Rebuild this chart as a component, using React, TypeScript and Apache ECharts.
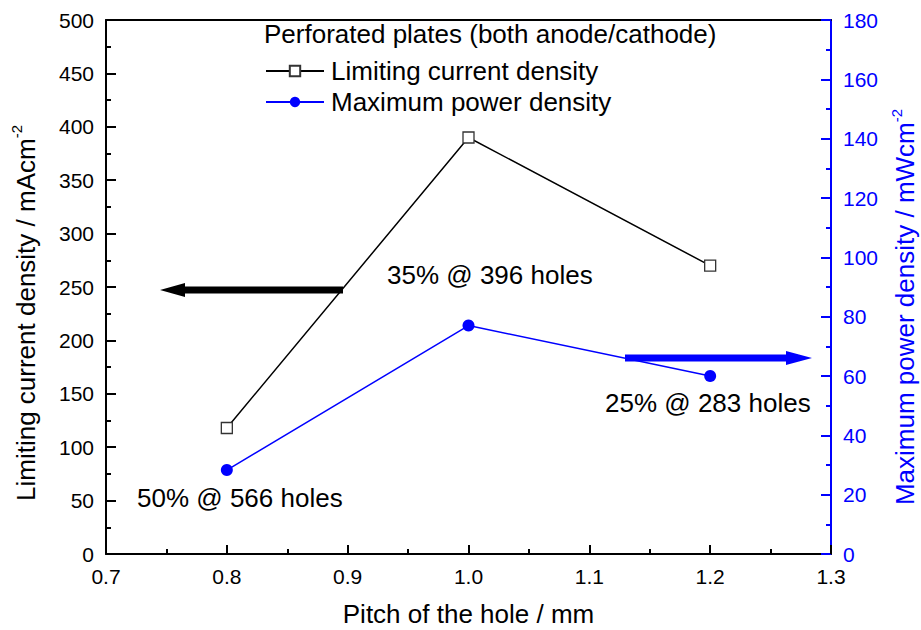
import React, { useEffect, useRef } from "react";
import * as echarts from "echarts";

const pitch = [0.8, 1.0, 1.2];
const limitingCurrent = [118, 390, 270];
const maxPower = [28.3, 77, 60];
const seriesNames = ["Limiting current density", "Maximum power density"];
const legendTitle = "Perforated plates (both anode/cathode)";
const annotationTexts = ["50% @ 566 holes", "35% @ 396 holes", "25% @ 283 holes"];
const xTitle = "Pitch of the hole / mm";
const yLeftTitle = "Limiting current density / mAcm{sup|-2}";
const yRightTitle = "Maximum power density / mWcm{sup|-2}";

const FONT = "'Liberation Sans', Arial, Helvetica, sans-serif";
const BLUE = "#0000ff";
const BIG = 26;
const TICK = 21;

export default function App() {
  const ref = useRef<HTMLDivElement>(null);
  useEffect(() => {
    if (!ref.current) return;
    const chart = echarts.init(ref.current, undefined, { renderer: "svg" });
    const supRich = { sup: { fontSize: 15, verticalAlign: "top", lineHeight: 15 } };
    chart.setOption({
      animation: false,
      backgroundColor: "#fff",
      textStyle: { fontFamily: FONT },
      grid: {
        left: 106,
        right: 90,
        top: 20,
        bottom: 76,
        containLabel: false,
        outerBoundsMode: "none",
      },
      title: {
        text: legendTitle,
        left: 264,
        top: 21,
        padding: 0,
        textStyle: { fontFamily: FONT, fontSize: BIG, fontWeight: "normal", color: "#000" },
      },
      legend: {
        orient: "vertical",
        left: 265,
        top: 58,
        padding: 0,
        itemGap: 5,
        itemWidth: 58,
        itemHeight: 13,
        textStyle: { fontFamily: FONT, fontSize: BIG, color: "#000", padding: [0, 0, 0, 2] },
        data: seriesNames,
      },
      xAxis: [
        {
          type: "value",
          min: 0.7,
          max: 1.3,
          interval: 0.1,
          name: xTitle,
          nameLocation: "middle",
          nameGap: 46,
          nameTextStyle: { fontFamily: FONT, fontSize: BIG, color: "#000", lineHeight: 28 },
          axisLine: { show: true, onZero: false, lineStyle: { color: "#000", width: 2 } },
          axisTick: { show: true, inside: true, length: 9, lineStyle: { color: "#000", width: 2 } },
          minorTick: { show: true, splitNumber: 2, length: 5, lineStyle: { color: "#000", width: 2 } },
          splitLine: { show: false },
          axisLabel: {
            fontFamily: FONT,
            fontSize: TICK,
            color: "#000",
            margin: 12,
            formatter: (v: number) => v.toFixed(1),
          },
        },
        {
          type: "value",
          position: "top",
          min: 0.7,
          max: 1.3,
          interval: 0.1,
          axisLine: { show: true, onZero: false, lineStyle: { color: "#000", width: 2 } },
          axisTick: { show: false },
          axisLabel: { show: false },
          splitLine: { show: false },
        },
      ],
      yAxis: [
        {
          type: "value",
          min: 0,
          max: 500,
          interval: 50,
          position: "left",
          name: yLeftTitle,
          nameLocation: "middle",
          nameRotate: 90,
          nameGap: 63,
          nameTextStyle: {
            fontFamily: FONT,
            fontSize: BIG,
            color: "#000",
            lineHeight: 34,
            padding: [0, 52, 0, 0],
            rich: supRich,
          },
          axisLine: { show: true, onZero: false, lineStyle: { color: "#000", width: 2 } },
          axisTick: { show: true, inside: true, length: 10, lineStyle: { color: "#000", width: 2 } },
          minorTick: { show: true, splitNumber: 2, length: 5, lineStyle: { color: "#000", width: 2 } },
          splitLine: { show: false },
          axisLabel: { fontFamily: FONT, fontSize: TICK, color: "#000", margin: 12 },
        },
        {
          type: "value",
          min: 0,
          max: 180,
          interval: 20,
          position: "right",
          name: yRightTitle,
          nameLocation: "middle",
          nameRotate: 90,
          nameGap: 57,
          nameTextStyle: {
            fontFamily: FONT,
            fontSize: BIG,
            color: BLUE,
            lineHeight: 32,
            padding: [0, 40, 0, 0],
            rich: supRich,
          },
          axisLine: { show: true, onZero: false, lineStyle: { color: BLUE, width: 2 } },
          axisTick: { show: true, inside: true, length: 10, lineStyle: { color: BLUE, width: 2 } },
          minorTick: { show: true, splitNumber: 2, length: 5, lineStyle: { color: BLUE, width: 2 } },
          splitLine: { show: false },
          axisLabel: { fontFamily: FONT, fontSize: TICK, color: BLUE, margin: 12 },
        },
      ],
      series: [
        {
          name: seriesNames[0],
          type: "line",
          xAxisIndex: 0,
          yAxisIndex: 0,
          data: pitch.map((p, i) => [p, limitingCurrent[i]]),
          symbol: "rect",
          symbolSize: 11,
          color: "#000",
          lineStyle: { color: "#000", width: 1.5 },
          itemStyle: { color: "#fff", borderColor: "#333", borderWidth: 1.3 },
          z: 3,
        },
        {
          name: seriesNames[1],
          type: "line",
          xAxisIndex: 0,
          yAxisIndex: 1,
          data: pitch.map((p, i) => [p, maxPower[i]]),
          symbol: "circle",
          symbolSize: 12,
          color: BLUE,
          lineStyle: { color: BLUE, width: 1.5 },
          itemStyle: { color: BLUE },
          z: 3,
        },
      ],
      graphic: [
        {
          type: "text",
          x: 137,
          y: 498,
          style: { text: annotationTexts[0], font: `${BIG}px ${FONT}`, fill: "#000", verticalAlign: "middle" },
        },
        {
          type: "text",
          x: 387,
          y: 275,
          style: { text: annotationTexts[1], font: `${BIG}px ${FONT}`, fill: "#000", verticalAlign: "middle" },
        },
        {
          type: "text",
          x: 605,
          y: 403,
          style: { text: annotationTexts[2], font: `${BIG}px ${FONT}`, fill: "#000", verticalAlign: "middle" },
        },
        {
          type: "polygon",
          shape: {
            points: [
              [343, 286.5],
              [185, 286.5],
              [185, 283],
              [160, 290],
              [185, 297],
              [185, 293.5],
              [343, 293.5],
            ],
          },
          style: { fill: "#000" },
          z: 10,
        },
        {
          type: "polygon",
          shape: {
            points: [
              [625, 354.5],
              [786, 354.5],
              [786, 351],
              [812, 358],
              [786, 365],
              [786, 361.5],
              [625, 361.5],
            ],
          },
          style: { fill: BLUE },
          z: 10,
        },
      ],
    });
    return () => chart.dispose();
  }, []);
  return (
    <div
      ref={ref}
      style={{ position: "absolute", left: 0, top: 0, width: 921, height: 630 }}
    />
  );
}
